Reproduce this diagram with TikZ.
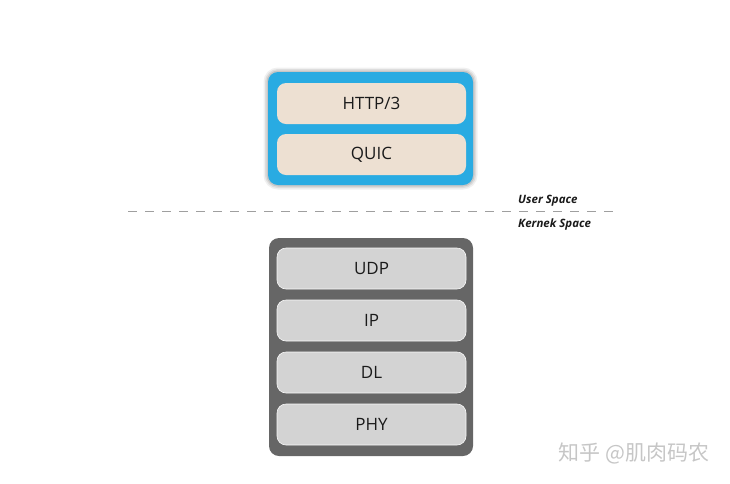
\documentclass[tikz,border=0pt]{standalone}
\usepackage{fontspec}
\setmainfont{Open Sans}
\newfontfamily\cjk{Noto Sans CJK SC}
\definecolor{qblue}{HTML}{29ABE2}
\definecolor{qbeige}{HTML}{EDE0D2}
\definecolor{kgray}{HTML}{666666}
\definecolor{lgray}{HTML}{D3D3D3}
\definecolor{txt}{HTML}{1A1A1A}
\tikzset{
  userbox/.style={fill=qblue, rounded corners=10pt, minimum width=205pt, minimum height=113pt, inner sep=0pt,
    preaction={draw=black, draw opacity=0.06, line width=9pt},
    preaction={draw=black, draw opacity=0.08, line width=6pt},
    preaction={draw=black, draw opacity=0.10, line width=3pt}},
  kernbox/.style={fill=kgray, rounded corners=10pt, minimum width=204pt, minimum height=218pt, inner sep=0pt},
  ulayer/.style={fill=qbeige, rounded corners=9pt, minimum width=189pt, minimum height=41pt, inner sep=0pt,
    font=\fontsize{17}{19}\selectfont, text=txt},
  klayer/.style={fill=lgray, draw=white!85!lgray, line width=0.6pt, rounded corners=9pt, minimum width=189pt, minimum height=41pt, inner sep=0pt,
    font=\fontsize{17}{19}\selectfont, text=txt},
  spacelabel/.style={anchor=west, inner sep=0pt, font=\fontsize{11.5}{13}\selectfont\bfseries\itshape, text=txt},
  sepline/.style={draw=gray!75, line width=1pt, dash pattern=on 9pt off 8pt},
}
\begin{document}
\begin{tikzpicture}[x=1pt, y=-1pt]
\useasboundingbox (0,0) rectangle (730,483);
% user space
\node[userbox] (user) at (370.5,128.5) {};
\node[ulayer] (http) at (371.5,103.5) {HTTP/3};
\node[ulayer] (quic) at (371.5,154.5) {QUIC};
% separator
\coordinate (sl) at (128,211);
\coordinate (sr) at (615,211);
\draw[sepline] (sl) -- (sr);
\node[spacelabel] (us) at (518,201) {User Space};
\node[spacelabel] (ks) at (518,225) {Kernek Space};
% kernel space
\node[kernbox] (kern) at (371,347) {};
\node[klayer] (udp) at (371.5,268.5) {UDP};
\node[klayer] (ip) at (371.5,320.5) {IP};
\node[klayer] (dl) at (371.5,372.5) {DL};
\node[klayer] (phy) at (371.5,424.5) {PHY};
% watermark
\node[text=gray!45, font=\cjk\fontsize{21}{23}\selectfont, inner sep=0pt] (wm) at (634,453) {知乎 @肌肉码农};
\end{tikzpicture}
\end{document}
